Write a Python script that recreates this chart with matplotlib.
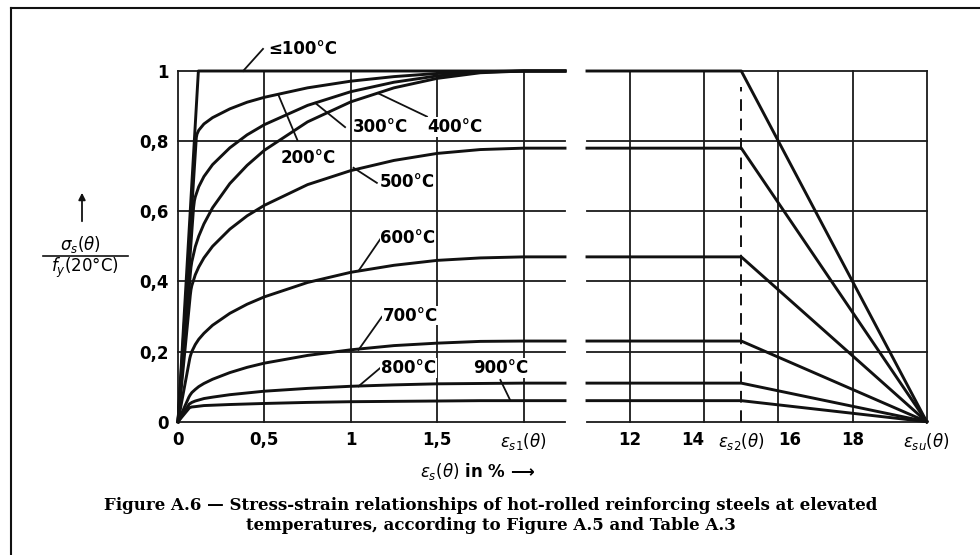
import matplotlib
matplotlib.use("Agg")
import matplotlib.pyplot as plt
from matplotlib.lines import Line2D

# strain in %, stress as sigma_s / f_y(20 C)
eps_100 = [0, 0.118, 2.24]
sig_100 = [0, 1.0, 1.0]

eps_200 = [0, 0.106, 0.11, 0.12, 0.15, 0.2, 0.3, 0.4, 0.5, 0.75, 1.0, 1.25, 1.5, 1.75, 2.0, 2.24]
sig_200 = [0, 0.81, 0.82, 0.831, 0.849, 0.867, 0.892, 0.911, 0.925, 0.952, 0.971, 0.984, 0.993, 0.998, 1.0, 1.0]

eps_300 = [0, 0.09, 0.095, 0.1, 0.12, 0.15, 0.2, 0.3, 0.4, 0.5, 0.75, 1.0, 1.25, 1.5, 1.75, 2.0, 2.24]
sig_300 = [0, 0.61, 0.63, 0.641, 0.670, 0.699, 0.733, 0.781, 0.818, 0.847, 0.902, 0.941, 0.968, 0.986, 0.997, 1.0, 1.0]

eps_400 = [0, 0.071, 0.075, 0.08, 0.1, 0.12, 0.15, 0.2, 0.3, 0.4, 0.5, 0.75, 1.0, 1.25, 1.5, 1.75, 2.0, 2.24]
sig_400 = [0, 0.42, 0.44, 0.456, 0.499, 0.529, 0.564, 0.610, 0.679, 0.731, 0.774, 0.855, 0.912, 0.952, 0.979, 0.995, 1.0, 1.0]

eps_500 = [0, 0.071, 0.075, 0.08, 0.1, 0.12, 0.15, 0.2, 0.3, 0.4, 0.5, 0.75, 1.0, 1.25, 1.5, 1.75, 2.0, 2.24]
sig_500 = [0, 0.36, 0.376, 0.388, 0.419, 0.441, 0.467, 0.500, 0.549, 0.587, 0.617, 0.676, 0.716, 0.745, 0.765, 0.776, 0.78, 0.78]

eps_600 = [0, 0.068, 0.072, 0.08, 0.1, 0.12, 0.15, 0.2, 0.3, 0.4, 0.5, 0.75, 1.0, 1.25, 1.5, 1.75, 2.0, 2.24]
sig_600 = [0, 0.18, 0.188, 0.200, 0.220, 0.235, 0.252, 0.275, 0.309, 0.335, 0.356, 0.397, 0.426, 0.446, 0.460, 0.467, 0.47, 0.47]

eps_700 = [0, 0.063, 0.07, 0.08, 0.1, 0.12, 0.15, 0.2, 0.3, 0.4, 0.5, 0.75, 1.0, 1.25, 1.5, 1.75, 2.0, 2.24]
sig_700 = [0, 0.07, 0.076, 0.083, 0.092, 0.100, 0.109, 0.121, 0.140, 0.155, 0.167, 0.189, 0.205, 0.217, 0.224, 0.229, 0.23, 0.23]

eps_800 = [0, 0.065, 0.08, 0.1, 0.15, 0.2, 0.3, 0.5, 0.75, 1.0, 1.25, 1.5, 1.75, 2.0, 2.24]
sig_800 = [0, 0.05, 0.055, 0.059, 0.066, 0.070, 0.077, 0.087, 0.095, 0.101, 0.105, 0.108, 0.109, 0.11, 0.11]

eps_900 = [0, 0.067, 0.08, 0.1, 0.15, 0.2, 0.3, 0.5, 0.75, 1.0, 1.25, 1.5, 1.75, 2.0, 2.24]
sig_900 = [0, 0.04, 0.042, 0.043, 0.046, 0.047, 0.049, 0.052, 0.055, 0.057, 0.058, 0.059, 0.060, 0.06, 0.06]

# right part: plateau up to eps_s2, then straight down to eps_su
plateau_levels = [1.0, 0.78, 0.47, 0.23, 0.11, 0.06]
eps_right = [10.84, 15, 20]

left_ticks = [0, 0.5, 1, 1.5, 2]
left_ticklabels = ["0", "0,5", "1", "1,5", r"$\varepsilon_{s1}(\theta)$"]
right_ticks = [12, 14, 15, 16, 18, 20]
right_ticklabels = ["12", "14", r"$\varepsilon_{s2}(\theta)$", "16", "18", r"$\varepsilon_{su}(\theta)$"]
y_ticks = [0, 0.2, 0.4, 0.6, 0.8, 1]
y_ticklabels = ["0", "0,2", "0,4", "0,6", "0,8", "1"]

plt.rcParams['font.family'] = ['DejaVu Sans']
plt.rcParams['mathtext.fontset'] = 'dejavusans'

W, H = 980, 555
fig = plt.figure(figsize=(9.8, 5.55), dpi=100)


def px(x, y):
    return x / W, 1 - y / H


grid_kw = dict(color='#1a1a1a', lw=1.3, clip_on=False, zorder=1)
curve_kw = dict(color='#111111', lw=2.1, clip_on=False, zorder=3, solid_joinstyle='round')
tick_font = dict(fontsize=12, fontweight='bold')

# left part
ax1 = fig.add_axes([178 / W, 1 - 421.7 / H, (565 - 178) / W, 350.7 / H])
ax1.set_xlim(0, 2.24)
ax1.set_ylim(0, 1)
for y in y_ticks:
    ax1.axhline(y, **grid_kw)
for x in left_ticks:
    ax1.axvline(x, **grid_kw)

for e, s in [(eps_100, sig_100), (eps_200, sig_200), (eps_300, sig_300),
             (eps_400, sig_400), (eps_500, sig_500), (eps_600, sig_600),
             (eps_700, sig_700), (eps_800, sig_800), (eps_900, sig_900)]:
    ax1.plot(e, s, **curve_kw)

ax1.set_xticks(left_ticks)
ax1.set_xticklabels(left_ticklabels, **tick_font)
ax1.set_yticks(y_ticks)
ax1.set_yticklabels(y_ticklabels, **tick_font)
ax1.tick_params(length=0, pad=7)
for sp in ax1.spines.values():
    sp.set_visible(False)

# temperature labels with leader lines
labels = [
    ("≤100°C", (0.377, 1.0), (0.492, 1.063), (0.52, 1.062), 'left'),
    ("200°C", (0.581, 0.932), (0.691, 0.803), (0.753, 0.752), 'center'),
    ("300°C", (0.794, 0.909), (0.967, 0.840), (1.17, 0.84), 'center'),
    ("400°C", (1.160, 0.936), (1.441, 0.870), (1.60, 0.84), 'center'),
    ("500°C", (1.016, 0.724), (1.151, 0.681), (1.33, 0.684), 'center'),
    ("600°C", (1.045, 0.430), (1.170, 0.520), (1.33, 0.524), 'center'),
    ("700°C", (1.045, 0.205), (1.180, 0.299), (1.345, 0.302), 'center'),
    ("800°C", (1.045, 0.101), (1.170, 0.153), (1.335, 0.153), 'center'),
    ("900°C", (1.924, 0.060), (1.866, 0.119), (1.87, 0.153), 'center'),
]
for txt, p0, p1, ptxt, ha in labels:
    ax1.plot([p0[0], p1[0]], [p0[1], p1[1]], color='#111111', lw=1.3, clip_on=False, zorder=4)
    ax1.text(ptxt[0], ptxt[1], txt, ha=ha, va='center', fontsize=12, fontweight='bold',
             clip_on=False, zorder=5, bbox=dict(facecolor='white', edgecolor='none', pad=0.5))

# right part
ax2 = fig.add_axes([587 / W, 1 - 421.7 / H, (926.7 - 587) / W, 350.7 / H])
ax2.set_xlim(10.84, 20)
ax2.set_ylim(0, 1)
for y in y_ticks:
    ax2.axhline(y, **grid_kw)
for x in [12, 14, 16, 18, 20]:
    ax2.axvline(x, **grid_kw)
ax2.plot([15, 15], [0, 0.955], color='#111111', lw=1.4, ls=(0, (6, 4)), zorder=2)
for k in plateau_levels:
    ax2.plot(eps_right, [k, k, 0], **curve_kw)

ax2.set_xticks(right_ticks)
ax2.set_xticklabels(right_ticklabels, **tick_font)
ax2.set_yticks([])
ax2.tick_params(length=0, pad=7)
for lbl in ax2.get_xticklabels():
    if lbl.get_text() == "14":
        lbl.set_horizontalalignment('right')
    elif lbl.get_text() == "16":
        lbl.set_horizontalalignment('left')
for sp in ax2.spines.values():
    sp.set_visible(False)

# y axis label as a fraction with an arrow
fig.text(*px(80, 245), r"$\sigma_s(\theta)$", ha='center', va='center', fontsize=12)
fig.add_artist(Line2D([43 / W, 128 / W], [1 - 256 / H, 1 - 256 / H], color='#111111', lw=1.2))
fig.text(*px(85, 268), r"$f_y$(20°C)", ha='center', va='center', fontsize=12)
fig.add_artist(matplotlib.patches.FancyArrowPatch(px(82, 224), px(82, 190), transform=fig.transFigure,
                                                  arrowstyle='-|>', mutation_scale=10, color='#111111', lw=1.3))

# x axis label
fig.text(*px(478, 471), r"$\varepsilon_s(\theta)$ in % ⟶", ha='center', va='center', fontsize=12, fontweight='bold')

# caption
fig.text(*px(491, 506), "Figure A.6 — Stress-strain relationships of hot-rolled reinforcing steels at elevated",
         ha='center', va='center', fontsize=12, fontweight='bold', family='DejaVu Serif')
fig.text(*px(491, 526), "temperatures, according to Figure A.5 and Table A.3",
         ha='center', va='center', fontsize=12, fontweight='bold', family='DejaVu Serif')

# outer frame (left and top edges)
fig.add_artist(Line2D([11 / W, 11 / W], [1 - 8 / H, 0], color='#111111', lw=1.5))
fig.add_artist(Line2D([11 / W, 1], [1 - 8 / H, 1 - 8 / H], color='#111111', lw=1.5))

fig.savefig("out.png", dpi=100)
